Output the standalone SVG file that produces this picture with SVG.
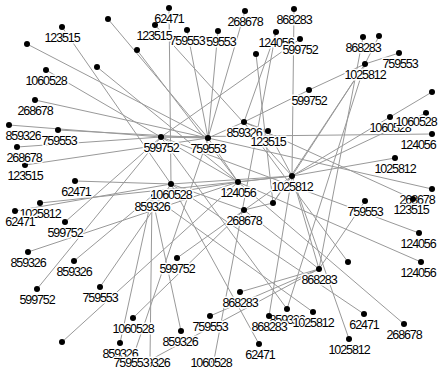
<svg xmlns="http://www.w3.org/2000/svg" width="441" height="373" viewBox="0 0 441 373">
<style>
.e line{stroke:#999;stroke-width:1}
circle{fill:#000}
text{font-family:"Liberation Sans",Arial,sans-serif;font-size:12.5px;letter-spacing:-1.1px;text-anchor:middle;fill:#000;stroke:#fff;stroke-width:3;paint-order:stroke;stroke-linejoin:round}
</style>
<rect width="441" height="373" fill="#fff"/>
<g id="connectors" class="e">
<line x1="62" y1="27" x2="171" y2="184"/>
<line x1="27" y1="44" x2="208" y2="138"/>
<line x1="46" y1="70" x2="238" y2="182"/>
<line x1="35" y1="100" x2="208" y2="138"/>
<line x1="97" y1="67" x2="238" y2="182"/>
<line x1="108" y1="19" x2="208" y2="138"/>
<line x1="137" y1="50" x2="238" y2="182"/>
<line x1="169" y1="8" x2="171" y2="184"/>
<line x1="155" y1="25" x2="292" y2="176"/>
<line x1="187" y1="30" x2="208" y2="138"/>
<line x1="218" y1="31" x2="208" y2="138"/>
<line x1="245" y1="11" x2="208" y2="138"/>
<line x1="276" y1="32" x2="244" y2="122"/>
<line x1="256" y1="54" x2="273" y2="203"/>
<line x1="300" y1="39" x2="161" y2="137"/>
<line x1="294" y1="9" x2="292" y2="176"/>
<line x1="309" y1="90" x2="244" y2="122"/>
<line x1="363" y1="37" x2="319" y2="269"/>
<line x1="379" y1="36" x2="365" y2="64"/>
<line x1="399" y1="53" x2="365" y2="64"/>
<line x1="309" y1="90" x2="365" y2="64"/>
<line x1="365" y1="64" x2="292" y2="176"/>
<line x1="365" y1="64" x2="273" y2="203"/>
<line x1="365" y1="64" x2="287" y2="309"/>
<line x1="432" y1="92" x2="390" y2="117"/>
<line x1="390" y1="117" x2="292" y2="176"/>
<line x1="426" y1="113" x2="292" y2="176"/>
<line x1="395" y1="158" x2="292" y2="176"/>
<line x1="432" y1="134" x2="161" y2="137"/>
<line x1="432" y1="189" x2="208" y2="138"/>
<line x1="413" y1="199" x2="244" y2="122"/>
<line x1="365" y1="201" x2="319" y2="269"/>
<line x1="419" y1="233" x2="161" y2="137"/>
<line x1="421" y1="262" x2="238" y2="182"/>
<line x1="348" y1="262" x2="244" y2="122"/>
<line x1="404" y1="324" x2="238" y2="182"/>
<line x1="349" y1="339" x2="292" y2="176"/>
<line x1="364" y1="314" x2="171" y2="184"/>
<line x1="313" y1="312" x2="152" y2="196"/>
<line x1="287" y1="309" x2="161" y2="137"/>
<line x1="269" y1="316" x2="292" y2="176"/>
<line x1="240" y1="292" x2="319" y2="269"/>
<line x1="210" y1="316" x2="319" y2="269"/>
<line x1="259" y1="344" x2="171" y2="184"/>
<line x1="181" y1="331" x2="152" y2="196"/>
<line x1="177" y1="258" x2="292" y2="176"/>
<line x1="214" y1="360" x2="276" y2="32"/>
<line x1="150" y1="360" x2="152" y2="196"/>
<line x1="150" y1="360" x2="319" y2="269"/>
<line x1="132" y1="360" x2="208" y2="138"/>
<line x1="120" y1="343" x2="152" y2="196"/>
<line x1="133" y1="318" x2="244" y2="210"/>
<line x1="62" y1="342" x2="238" y2="182"/>
<line x1="100" y1="287" x2="171" y2="184"/>
<line x1="37" y1="289" x2="161" y2="137"/>
<line x1="74" y1="261" x2="152" y2="196"/>
<line x1="28" y1="252" x2="238" y2="182"/>
<line x1="65" y1="222" x2="161" y2="137"/>
<line x1="15" y1="211" x2="171" y2="184"/>
<line x1="40" y1="203" x2="292" y2="176"/>
<line x1="75" y1="181" x2="171" y2="184"/>
<line x1="25" y1="165" x2="208" y2="138"/>
<line x1="17" y1="147" x2="161" y2="137"/>
<line x1="58" y1="130" x2="208" y2="138"/>
<line x1="9" y1="125" x2="161" y2="137"/>
<line x1="161" y1="137" x2="208" y2="138"/>
<line x1="208" y1="138" x2="238" y2="182"/>
<line x1="244" y1="122" x2="208" y2="138"/>
<line x1="268" y1="131" x2="292" y2="176"/>
<line x1="268" y1="131" x2="244" y2="122"/>
<line x1="171" y1="184" x2="292" y2="176"/>
<line x1="152" y1="196" x2="238" y2="182"/>
<line x1="238" y1="182" x2="292" y2="176"/>
<line x1="273" y1="203" x2="244" y2="210"/>
<line x1="273" y1="203" x2="292" y2="176"/>
<line x1="244" y1="210" x2="171" y2="184"/>
<line x1="292" y1="176" x2="319" y2="269"/>
<line x1="319" y1="269" x2="244" y2="210"/>
</g>
<g id="n1"><circle cx="62" cy="27" r="3"/><text x="62" y="42">123515</text></g>
<g id="n2"><circle cx="27" cy="44" r="3"/></g>
<g id="n3"><circle cx="46" cy="70" r="3"/><text x="46" y="85">1060528</text></g>
<g id="n4"><circle cx="35" cy="100" r="3"/><text x="35" y="115">268678</text></g>
<g id="n5"><circle cx="97" cy="67" r="3"/></g>
<g id="n6"><circle cx="108" cy="19" r="3"/></g>
<g id="n7"><circle cx="137" cy="50" r="3"/></g>
<g id="n8"><circle cx="169" cy="8" r="3"/><text x="169" y="23">62471</text></g>
<g id="n11"><circle cx="218" cy="31" r="3"/><text x="218" y="46">759553</text></g>
<g id="n10"><circle cx="187" cy="30" r="3"/><text x="187" y="45">759553</text></g>
<g id="n9"><circle cx="155" cy="25" r="3"/><text x="154" y="40">123515</text></g>
<g id="n12"><circle cx="245" cy="11" r="3"/><text x="245" y="26">268678</text></g>
<g id="n13"><circle cx="294" cy="9" r="3"/><text x="294" y="24">868283</text></g>
<g id="n14"><circle cx="276" cy="32" r="3"/><text x="276" y="47">124056</text></g>
<g id="n15"><circle cx="256" cy="54" r="3"/></g>
<g id="n16"><circle cx="300" cy="39" r="3"/><text x="300" y="54">599752</text></g>
<g id="n17"><circle cx="363" cy="37" r="3"/><text x="363" y="52">868283</text></g>
<g id="n18"><circle cx="379" cy="36" r="3"/></g>
<g id="n19"><circle cx="365" cy="64" r="3"/><text x="365" y="79">1025812</text></g>
<g id="n20"><circle cx="399" cy="53" r="3"/><text x="400" y="68">759553</text></g>
<g id="n21"><circle cx="309" cy="90" r="3"/><text x="309" y="105">599752</text></g>
<g id="n22"><circle cx="432" cy="92" r="3"/></g>
<g id="n24"><circle cx="390" cy="117" r="3"/><text x="390" y="132">1060528</text></g>
<g id="n23"><circle cx="426" cy="113" r="3"/><text x="416" y="126">1060528</text></g>
<g id="n25"><circle cx="432" cy="134" r="3"/><text x="418" y="149">124056</text></g>
<g id="n26"><circle cx="395" cy="158" r="3"/><text x="395" y="173">1025812</text></g>
<g id="n27"><circle cx="432" cy="189" r="3"/><text x="417" y="204">268678</text></g>
<g id="n28"><circle cx="413" cy="199" r="3"/><text x="411" y="214">123515</text></g>
<g id="n29"><circle cx="365" cy="201" r="3"/><text x="365" y="216">759553</text></g>
<g id="n30"><circle cx="419" cy="233" r="3"/><text x="418" y="248">124056</text></g>
<g id="n31"><circle cx="421" cy="262" r="3"/><text x="418" y="277">124056</text></g>
<g id="n32"><circle cx="348" cy="262" r="3"/></g>
<g id="n33"><circle cx="319" cy="269" r="3"/><text x="319" y="284">868283</text></g>
<g id="n38"><circle cx="287" cy="309" r="3"/><text x="287" y="324">859326</text></g>
<g id="n34"><circle cx="313" cy="312" r="3"/><text x="313" y="327">1025812</text></g>
<g id="n35"><circle cx="364" cy="314" r="3"/><text x="364" y="329">62471</text></g>
<g id="n36"><circle cx="404" cy="324" r="3"/><text x="404" y="339">268678</text></g>
<g id="n37"><circle cx="349" cy="339" r="3"/><text x="349" y="354">1025812</text></g>
<g id="n39"><circle cx="269" cy="316" r="3"/><text x="269" y="331">868283</text></g>
<g id="n40"><circle cx="240" cy="292" r="3"/><text x="240" y="307">868283</text></g>
<g id="n41"><circle cx="210" cy="316" r="3"/><text x="210" y="331">759553</text></g>
<g id="n42"><circle cx="259" cy="344" r="3"/><text x="260" y="359">62471</text></g>
<g id="n43"><circle cx="181" cy="331" r="3"/><text x="180" y="346">859326</text></g>
<g id="n44"><circle cx="177" cy="258" r="3"/><text x="177" y="273">599752</text></g>
<g id="n45"><circle cx="214" cy="361" r="3"/><text x="211" y="367">1060528</text></g>
<g id="n48"><circle cx="120" cy="343" r="3"/><text x="120" y="358">859326</text></g>
<g id="n46"><circle cx="150" cy="361" r="3"/><text x="152" y="367">859326</text></g>
<g id="n47"><circle cx="132" cy="361" r="3"/><text x="131" y="367">759553</text></g>
<g id="n49"><circle cx="133" cy="318" r="3"/><text x="133" y="333">1060528</text></g>
<g id="n50"><circle cx="62" cy="342" r="3"/></g>
<g id="n51"><circle cx="100" cy="287" r="3"/><text x="100" y="302">759553</text></g>
<g id="n52"><circle cx="37" cy="289" r="3"/><text x="37" y="304">599752</text></g>
<g id="n53"><circle cx="74" cy="261" r="3"/><text x="74" y="276">859326</text></g>
<g id="n54"><circle cx="28" cy="252" r="3"/><text x="28" y="267">859326</text></g>
<g id="n55"><circle cx="65" cy="222" r="3"/><text x="65" y="237">599752</text></g>
<g id="n57"><circle cx="40" cy="203" r="3"/><text x="40" y="218">1025812</text></g>
<g id="n56"><circle cx="15" cy="211" r="3"/><text x="20" y="226">62471</text></g>
<g id="n58"><circle cx="75" cy="181" r="3"/><text x="76" y="196">62471</text></g>
<g id="n59"><circle cx="25" cy="165" r="3"/><text x="25" y="180">123515</text></g>
<g id="n60"><circle cx="17" cy="147" r="3"/><text x="24" y="162">268678</text></g>
<g id="n62"><circle cx="9" cy="125" r="3"/><text x="23" y="140">859326</text></g>
<g id="n61"><circle cx="58" cy="130" r="3"/><text x="59" y="145">759553</text></g>
<g id="n63"><circle cx="161" cy="137" r="3"/><text x="161" y="152">599752</text></g>
<g id="n64"><circle cx="208" cy="138" r="3"/><text x="208" y="153">759553</text></g>
<g id="n65"><circle cx="244" cy="122" r="3"/><text x="244" y="137">859326</text></g>
<g id="n66"><circle cx="268" cy="131" r="3"/><text x="268" y="146">123515</text></g>
<g id="n68"><circle cx="154" cy="196" r="3"/><text x="152" y="211">859326</text></g>
<g id="n67"><circle cx="171" cy="184" r="3"/><text x="171" y="199">1060528</text></g>
<g id="n69"><circle cx="238" cy="182" r="3"/><text x="238" y="197">124056</text></g>
<g id="n70"><circle cx="292" cy="176" r="3"/><text x="292" y="191">1025812</text></g>
<g id="n71"><circle cx="273" cy="203" r="3"/></g>
<g id="n72"><circle cx="244" cy="210" r="3"/><text x="244" y="225">268678</text></g>
</svg>
